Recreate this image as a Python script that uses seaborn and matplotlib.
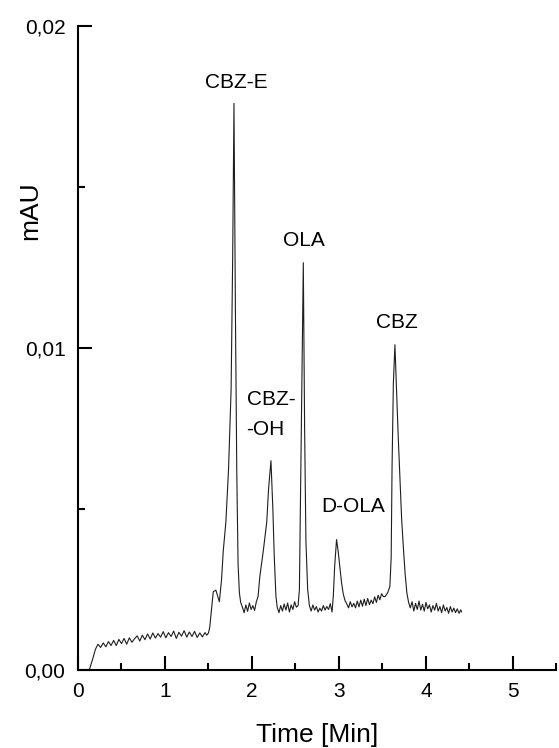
import numpy as np
import pandas as pd
import matplotlib
matplotlib.use("Agg")
import matplotlib.pyplot as plt
from matplotlib.ticker import MultipleLocator, FuncFormatter
import seaborn as sns

# retention time [min]
time_min = [
    0.13, 0.17, 0.20, 0.23, 0.26, 0.29, 0.32, 0.35, 0.38, 0.41, 0.44, 0.47,
    0.50, 0.53, 0.56, 0.59, 0.62, 0.65, 0.68, 0.71, 0.74, 0.77, 0.80, 0.83,
    0.86, 0.89, 0.92, 0.95, 0.98, 1.01, 1.04, 1.07, 1.10, 1.13, 1.16, 1.19,
    1.22, 1.25, 1.28, 1.31, 1.34, 1.37, 1.40, 1.43, 1.46, 1.48, 1.50, 1.515,
    1.555, 1.585, 1.605, 1.625, 1.65, 1.67, 1.70, 1.73, 1.76, 1.778, 1.793,
    1.81, 1.825, 1.84, 1.855, 1.87,
    1.89, 1.91, 1.93, 1.95, 1.97, 1.99, 2.01, 2.03, 2.05, 2.07,
    2.09, 2.13, 2.17, 2.19, 2.218, 2.24, 2.255, 2.275, 2.29,
    2.31, 2.33, 2.35, 2.37, 2.39, 2.41, 2.43, 2.45, 2.47, 2.49, 2.51,
    2.53, 2.545, 2.565, 2.59, 2.605, 2.62, 2.64, 2.66,
    2.68, 2.70, 2.72, 2.74, 2.76, 2.78, 2.80, 2.82, 2.84, 2.86, 2.88, 2.90, 2.92,
    2.935, 2.95, 2.972, 2.99, 3.01, 3.03, 3.05, 3.07,
    3.09, 3.11, 3.13, 3.15, 3.17, 3.19, 3.21, 3.23, 3.25, 3.27, 3.29, 3.31,
    3.33, 3.35, 3.37, 3.39, 3.41, 3.43, 3.45, 3.47, 3.49, 3.51,
    3.53, 3.56, 3.585, 3.60, 3.61, 3.625, 3.643, 3.66, 3.68, 3.70, 3.72,
    3.74, 3.76, 3.78, 3.80,
    3.82, 3.84, 3.86, 3.88, 3.90, 3.92, 3.94, 3.96, 3.98, 4.00, 4.02, 4.04,
    4.06, 4.08, 4.10, 4.12, 4.14, 4.16, 4.18, 4.20, 4.22, 4.24, 4.26, 4.28,
    4.30, 4.32, 4.34, 4.36, 4.38, 4.40, 4.41,
]

signal_milli = [
    0.00, 0.35, 0.64, 0.80, 0.70, 0.84, 0.72, 0.88, 0.76, 0.92, 0.76, 0.95,
    0.82, 0.98, 0.80, 1.00, 0.86, 0.97, 1.06, 0.90, 1.08, 0.94, 1.12, 0.96,
    1.15, 0.99, 1.13, 1.02, 1.19, 1.00, 1.16, 1.04, 1.21, 0.98, 1.17, 1.05,
    1.22, 1.02, 1.18, 1.04, 1.20, 1.01, 1.15, 1.03, 1.16, 1.08, 1.15, 1.34,
    2.43, 2.48, 2.30, 2.12, 2.80, 3.70, 4.60, 6.20, 8.70, 12.8, 17.6,
    11.0, 6.2, 3.3, 2.4, 2.1,
    1.95, 1.78, 2.02, 1.82, 2.08, 1.88, 2.00, 1.85, 2.12, 2.28,
    2.90, 3.70, 4.60, 5.60, 6.50, 5.00, 3.60, 2.30, 1.95,
    1.78, 2.00, 1.83, 2.05, 1.86, 2.08, 1.80, 2.02, 1.88, 2.12, 1.95,
    2.00, 2.50, 7.00, 12.65, 7.50, 4.00, 2.50, 2.00,
    1.83, 2.02, 1.86, 1.97, 1.80, 1.92, 1.83, 2.00, 1.86, 1.97, 1.88, 2.06, 1.80,
    2.30, 3.20, 4.05, 3.70, 3.20, 2.70, 2.35, 2.15,
    2.05, 1.93, 2.12, 1.96, 2.07, 1.93, 2.14, 1.96, 2.17, 1.98, 2.20, 2.00,
    2.22, 2.03, 2.17, 2.06, 2.27, 2.10, 2.32, 2.18, 2.37, 2.28,
    2.28, 2.40, 2.60, 3.50, 6.30, 8.90, 10.1, 8.80, 7.30, 6.00, 4.70,
    3.80, 3.00, 2.40, 2.10,
    1.93, 2.12, 1.83, 2.07, 1.88, 2.14, 1.86, 2.04, 1.83, 2.10, 1.90, 2.02,
    1.80, 2.00, 1.86, 2.07, 1.83, 1.97, 1.78, 2.02, 1.83, 1.94, 1.76, 1.97,
    1.80, 1.92, 1.78, 1.90, 1.76, 1.87, 1.80,
]

peak_names = ["CBZ-E", "OLA", "CBZ-\n-OH", "D-OLA", "CBZ"]
label_time = [1.824, 2.598, 1.937, 3.16, 3.667]
label_mau = [0.01824, 0.01334, 0.00793, 0.00509, 0.01079]

df = pd.DataFrame({"time": time_min, "mau": np.array(signal_milli) / 1000.0})

sns.set_style("ticks")
plt.rcParams["font.family"] = ["Liberation Sans", "DejaVu Sans"]
plt.rcParams["text.color"] = "black"
plt.rcParams["axes.labelcolor"] = "black"

fig = plt.figure(figsize=(5.59, 7.48), dpi=100)
ax = fig.add_axes([0.1395, 0.1043, 0.8560, 0.8609])

sns.lineplot(data=df, x="time", y="mau", ax=ax, color="#1e1e1e",
             linewidth=0.8, estimator=None, sort=False)

for name, tx, ty in zip(peak_names, label_time, label_mau):
    if "\n" in name:
        ax.text(tx, ty, name, ha="left", va="center", fontsize=15,
                linespacing=1.75, color="black")
    else:
        ax.text(tx, ty, name, ha="center", va="center", fontsize=15,
                color="black")

ax.set_xlim(0, 5.5)
ax.set_ylim(0, 0.02)
ax.xaxis.set_major_locator(MultipleLocator(1))
ax.xaxis.set_minor_locator(MultipleLocator(0.5))
ax.yaxis.set_major_locator(MultipleLocator(0.01))
ax.yaxis.set_minor_locator(MultipleLocator(0.005))
ax.yaxis.set_major_formatter(FuncFormatter(lambda v, p: f"{v:.2f}".replace(".", ",")))

ax.tick_params(which="both", direction="in", width=1.5, colors="black",
               labelsize=15, pad=9)
ax.tick_params(which="major", length=10)
ax.tick_params(which="minor", length=5)

for side in ["top", "right"]:
    ax.spines[side].set_visible(False)
for side in ["left", "bottom"]:
    ax.spines[side].set_linewidth(1.5)
    ax.spines[side].set_color("black")

ax.set_xlabel("Time [Min]", fontsize=19)
ax.set_ylabel("mAU", fontsize=19)
ax.xaxis.set_label_coords(0.5, -0.082)
ax.yaxis.set_label_coords(-0.1, 0.713)
ax.yaxis.label.set_va("center")
ax.xaxis.label.set_va("top")

fig.savefig("out.png", dpi=100)
